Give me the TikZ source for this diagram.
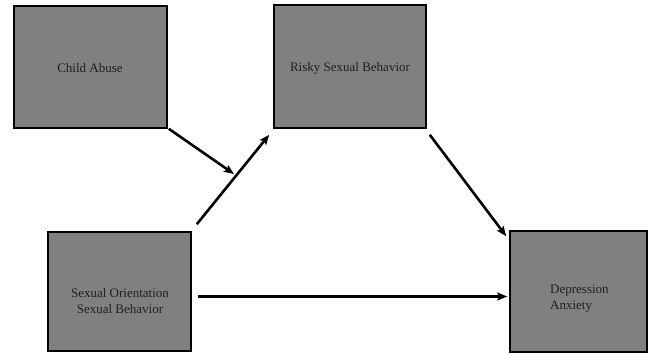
\documentclass[tikz,border=0pt]{standalone}
\usepackage{fontspec}
\setmainfont{Liberation Serif}
\usetikzlibrary{arrows.meta,calc}
\definecolor{boxgray}{HTML}{808080}
\definecolor{txt}{HTML}{202020}
\tikzset{
  varbox/.style={draw=black, line width=1.6pt, fill=boxgray, inner sep=0pt},
  vartext/.style={text=txt, font=\fontsize{13}{16.5}\selectfont, inner sep=0pt},
  conn/.style={line width=2.6pt, -{Stealth[length=10pt,width=8pt,inset=2pt]}},
}
\begin{document}
\begin{tikzpicture}[x=1pt,y=1pt]
\useasboundingbox (0,0) rectangle (650,354);
\fill[white] (0,0) rectangle (650,354);
% boxes (y flipped: 354 - y)
\node[varbox, minimum width=153pt, minimum height=122pt] (ca) at (90.5,287) {};
\node[varbox, minimum width=152pt, minimum height=123pt] (rsb) at (350,287.5) {};
\node[varbox, minimum width=143pt, minimum height=119pt] (so) at (119.5,62.5) {};
\node[varbox, minimum width=137pt, minimum height=121pt] (da) at (578.5,62.5) {};
% texts
\node[vartext] (catext) at (90,286) {Child Abuse};
\node[vartext] (rsbtext) at (350,286) {Risky Sexual Behavior};
\node[vartext, align=center] (sotext) at (120,53) {Sexual Orientation\\Sexual Behavior};
\node[vartext, align=left, anchor=west] (datext) at (550,55.5) {Depression\\Anxiety};
% connectors
\coordinate (mid) at (234,180);
\draw[conn] ($(so.north east)+(5,7)$) -- ($(rsb.south west)+(-4,-6)$);
\draw[conn] ($(ca.south east)+(1,0)$) -- (mid);
\draw[conn] ($(rsb.south east)+(3,-6)$) -- ($(da.north west)+(-3,-6)$);
\draw[conn] ($(so.east)+(6,-5)$) -- ($(da.west)+(-2,-5)$);
\end{tikzpicture}
\end{document}
